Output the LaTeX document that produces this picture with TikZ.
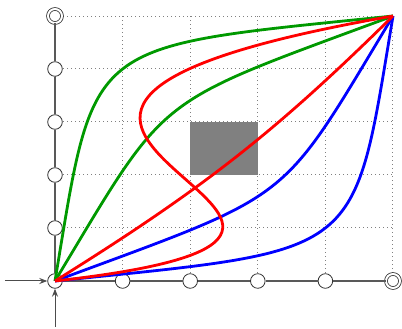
\documentclass[tikz,border=0pt]{standalone}
\usetikzlibrary{arrows.meta}
\begin{document}
\begin{tikzpicture}[x=67.6pt,y=53pt,
  gridline/.style={gray, line width=1pt, dash pattern=on 1pt off 3pt},
  axisline/.style={black!65, line width=1.3pt},
  state/.style={circle, draw=black!80, fill=white, line width=0.8pt, minimum size=14.6pt, inner sep=0pt},
  accept/.style={state, double, double distance=2pt, minimum size=14pt},
  initarrow/.style={black!70, line width=1pt, -{Stealth[length=8pt,width=6pt]}},
  curve/.style={line width=2.8pt},
  greencurve/.style={curve, green!60!black},
  bluecurve/.style={curve, blue},
  redcurve/.style={curve, red},
]
\useasboundingbox (-55pt,-48pt) rectangle (347pt,281pt);
\draw[gridline, xstep=1, ystep=1] (0,0) grid (5,5);
\fill[gray] (2,2) rectangle (3,3);
\node[state] (o) at (0,0) {};
\node[state] (x1) at (1,0) {};
\node[state] (x2) at (2,0) {};
\node[state] (x3) at (3,0) {};
\node[state] (x4) at (4,0) {};
\node[accept] (x5) at (5,0) {};
\node[state] (y1) at (0,1) {};
\node[state] (y2) at (0,2) {};
\node[state] (y3) at (0,3) {};
\node[state] (y4) at (0,4) {};
\node[accept] (y5) at (0,5) {};
\coordinate (tr) at (5,5);
\coordinate (il) at (-50pt,0);
\coordinate (ib) at (0,-46pt);
\draw[axisline] (o) -- (x1) -- (x2) -- (x3) -- (x4) -- (x5);
\draw[axisline] (o) -- (y1) -- (y2) -- (y3) -- (y4) -- (y5);
\draw[initarrow] (il) -- (o);
\draw[initarrow] (ib) -- (o);
\draw[greencurve] (o.center) .. controls (0.6,4.6) and (0.4,4.4) .. (tr);
\draw[greencurve] (o.center) .. controls (1.7,3.6) and (1.4,3.3) .. (tr);
\draw[bluecurve] (o.center) .. controls (4.6,0.6) and (4.4,0.4) .. (tr);
\draw[bluecurve] (o.center) .. controls (3.6,1.7) and (3.3,1.4) .. (tr);
\draw[redcurve] (o.center) .. controls (2.2,1.75) and (3.25,2.8) .. (tr);
\draw[redcurve] (o.center) .. controls (7,1) and (-4,3) .. (tr);
\end{tikzpicture}
\end{document}
